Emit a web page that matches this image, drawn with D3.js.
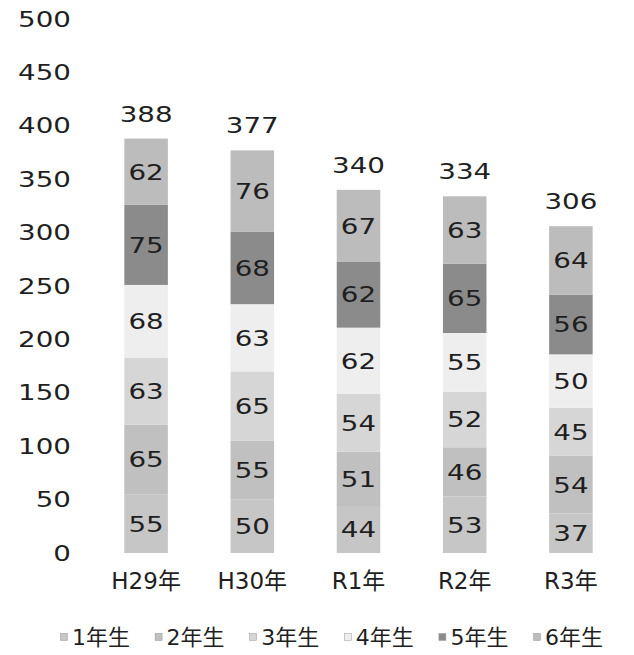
<!DOCTYPE html>
<html><head><meta charset="utf-8">
<script src="https://cdn.jsdelivr.net/npm/d3@7"></script>
<style>
html,body{margin:0;padding:0;background:#fff;}
text{font-family:"DejaVu Sans","Noto Sans CJK JP",sans-serif;fill:#1f1f1f;}
</style></head>
<body>
<svg id="c" width="634" height="655"></svg>
<script>
const categories = ["H29年","H30年","R1年","R2年","R3年"];
const seriesNames = ["1年生","2年生","3年生","4年生","5年生","6年生"];
const grade1 = [55,50,44,53,37];
const grade2 = [65,55,51,46,54];
const grade3 = [63,65,54,52,45];
const grade4 = [68,63,62,55,50];
const grade5 = [75,68,62,65,56];
const grade6 = [62,76,67,63,64];
const totals = [388,377,340,334,306];
const yTicks = [0,50,100,150,200,250,300,350,400,450,500];
const colors = ["#c6c6c6","#c0c0c0","#d6d6d6","#eeeeee","#8b8b8b","#bcbcbc"];

const seriesValues = [grade1,grade2,grade3,grade4,grade5,grade6];
const rows = categories.map((c,i)=>{
  const r = {cat:c};
  seriesNames.forEach((s,j)=>r[s]=seriesValues[j][i]);
  return r;
});

const svg = d3.select("#c");
const y = d3.scaleLinear().domain([0,500]).range([553,19]);
const x = d3.scaleBand().domain(categories).range([93,624]).paddingInner(0.59).paddingOuter(0.295);
const SX = 1.26;

const yAxis = d3.axisLeft(y).tickValues(yTicks).tickSize(0).tickPadding(0);
const ya = svg.append("g").attr("transform","translate(71,0)").call(yAxis);
ya.select(".domain").remove();
ya.selectAll("text").style("font-size","22px")
  .attr("font-family",null).attr("fill","#1f1f1f")
  .attr("transform",`scale(${SX},1)`);

const stack = d3.stack().keys(seriesNames)(rows);

const g = svg.append("g");
stack.forEach((layer,j)=>{
  g.selectAll(null).data(layer).enter().append("rect")
    .attr("x",d=>x(d.data.cat))
    .attr("width",x.bandwidth())
    .attr("y",d=>y(d[1]))
    .attr("height",d=>y(d[0])-y(d[1]))
    .attr("fill",colors[j]);
  g.selectAll(null).data(layer).enter().append("text")
    .attr("transform",d=>`translate(${x(d.data.cat)+x.bandwidth()/2},${(y(d[0])+y(d[1]))/2}) scale(${SX},1)`)
    .attr("dy","0.36em")
    .attr("text-anchor","middle")
    .style("font-size","22px")
    .text(d=>d[1]-d[0]);
});

svg.selectAll(null).data(categories).enter().append("text")
  .attr("transform",(d,i)=>`translate(${x(d)+x.bandwidth()/2},${y(totals[i])-17}) scale(${SX},1)`)
  .attr("text-anchor","middle")
  .style("font-size","22px")
  .text((d,i)=>totals[i]);

const xAxis = d3.axisBottom(x).tickSize(0).tickPadding(0);
const xa = svg.append("g").attr("transform","translate(0,589)").call(xAxis);
xa.select(".domain").remove();
xa.selectAll("text").attr("dy",null).style("font-size","23px").attr("fill","#1f1f1f").attr("font-family",null);

const leg = svg.append("g").attr("transform","translate(64,637)");
seriesNames.forEach((s,j)=>{
  const it = leg.append("g").attr("transform",`translate(${j*94.6},0)`);
  it.append("rect").attr("x",-3.5).attr("y",-3.5).attr("width",7).attr("height",7)
    .attr("fill",colors[j]).attr("stroke","#999").attr("stroke-width",0.5);
  it.append("text").attr("x",8).attr("y",0).attr("dy","0.36em")
    .style("font-size","22px").text(s);
});
</script>
</body></html>
